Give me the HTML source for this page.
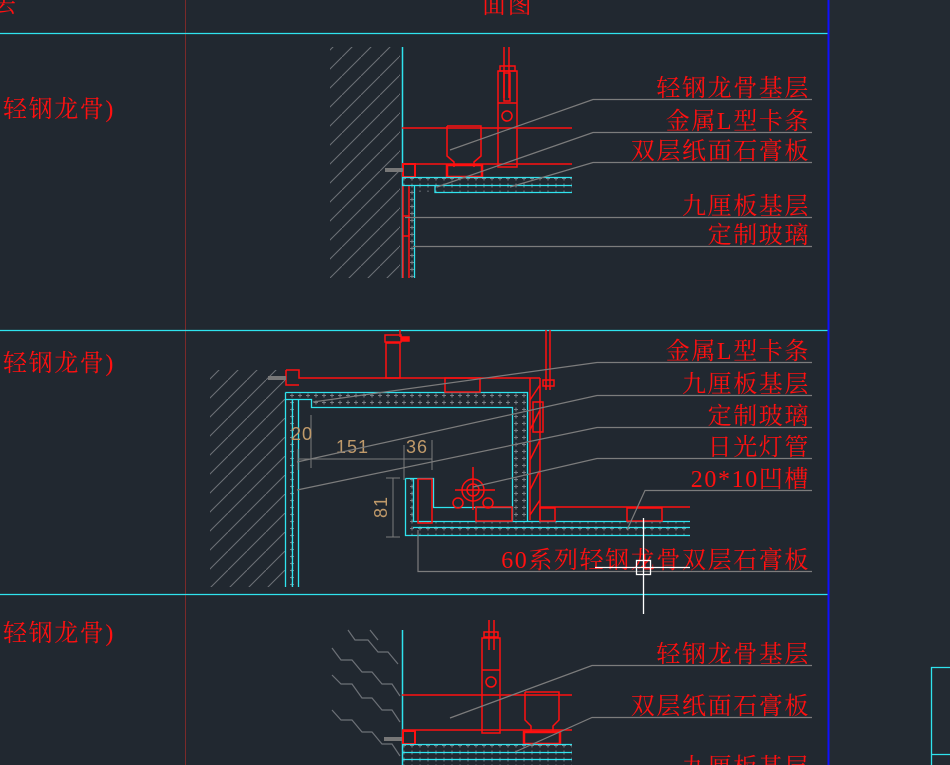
<!DOCTYPE html>
<html><head><meta charset="utf-8"><style>
html,body{margin:0;padding:0;background:#212830;}
svg{display:block}
.t{font-family:"Liberation Serif","Noto Serif CJK SC",serif;fill:#ff1010;font-size:24px;letter-spacing:1.6px;}
.d{font-family:"Liberation Sans",sans-serif;fill:#c09a6a;font-size:18px;letter-spacing:1px;}
</style></head><body>
<svg width="950" height="765" viewBox="0 0 950 765" xmlns="http://www.w3.org/2000/svg">
<defs>
<pattern id="pl" width="8" height="7" patternUnits="userSpaceOnUse">
<path d="M2 3.5h4M4 1.5v4" stroke="#7a7f86" stroke-width="1"/>
</pattern>
<pattern id="hat" width="19" height="19" patternUnits="userSpaceOnUse">
<path d="M0 19L19 0" stroke="#6d7177" stroke-width="1"/>
</pattern>
</defs>
<rect width="950" height="765" fill="#212830"/>
<rect x="829" y="0" width="121" height="765" fill="#232a32"/>
<line x1="185.5" y1="0" x2="185.5" y2="765" stroke="#7a2a2a" stroke-width="1"/>
<line x1="0" y1="33.5" x2="829" y2="33.5" stroke="#2fe3ee" stroke-width="1.3"/>
<line x1="0" y1="330.5" x2="829" y2="330.5" stroke="#2fe3ee" stroke-width="1.3"/>
<line x1="0" y1="594.5" x2="829" y2="594.5" stroke="#2fe3ee" stroke-width="1.3"/>
<line x1="828.5" y1="0" x2="828.5" y2="765" stroke="#1010ff" stroke-width="2"/>
<path d="M931.5 765V667.5H950M931.5 754.5H950" stroke="#2fe3ee" fill="none" stroke-width="1.3"/>

<text class="t" x="-8" y="12">去</text>
<text class="t" x="482" y="13">面图</text>
<text class="t" x="3" y="117">轻钢龙骨)</text>
<text class="t" x="3" y="371">轻钢龙骨)</text>
<text class="t" x="3" y="641">轻钢龙骨)</text>

<!-- ===== Section 1 ===== -->
<rect x="330" y="47" width="70" height="231" fill="url(#hat)"/>
<line x1="402.5" y1="47" x2="402.5" y2="278" stroke="#2fe3ee" stroke-width="1.5"/>
<g stroke="#ff1010" fill="none" stroke-width="1.5">
<line x1="402" y1="128" x2="572" y2="128"/>
<line x1="402" y1="164" x2="572" y2="164"/>
<rect x="498" y="71" width="19" height="96"/>
<rect x="500" y="66" width="15" height="5"/>
<path d="M504 47V98M509 47V98"/>
<rect x="504" y="73" width="6" height="28"/>
<line x1="498" y1="103" x2="517" y2="103"/>
<circle cx="507" cy="116" r="5"/>
<path d="M447 126H481V156L474 162V167M447 126V156L454 162V167"/>
<rect x="447" y="165" width="35" height="12" stroke-width="2.5"/>
<rect x="403" y="164" width="12" height="13" stroke-width="2"/>
<path d="M403 185V278M409 185V278"/>
<path d="M403 216H409V236H403"/>
</g>
<rect x="403" y="177" width="169" height="8" fill="url(#pl)"/>
<rect x="415" y="185" width="157" height="7" fill="url(#pl)"/>
<rect x="409" y="185" width="5" height="93" fill="url(#pl)"/>
<g stroke="#2fe3ee" stroke-width="1.3" fill="none">
<line x1="402" y1="177.5" x2="572" y2="177.5"/>
<line x1="402" y1="185.5" x2="572" y2="185.5"/>
<path d="M435 185.5V192.5H572"/>
<line x1="414.5" y1="185" x2="414.5" y2="278"/>
</g>
<rect x="385" y="168" width="18" height="4" fill="#777"/>
<g stroke="#7c7c7c" stroke-width="1.2" fill="none">
<path d="M812 99.5H593L450 150"/>
<path d="M812 132.5H593L437 187"/>
<path d="M812 162.5H593L510 187"/>
<path d="M812 217.5H405"/>
<path d="M812 246.5H413"/>
</g>
<g class="t" text-anchor="end">
<text x="810" y="96">轻钢龙骨基层</text>
<text x="810" y="129">金属L型卡条</text>
<text x="810" y="159">双层纸面石膏板</text>
<text x="810" y="214">九厘板基层</text>
<text x="810" y="243">定制玻璃</text>
</g>

<!-- ===== Section 2 ===== -->
<rect x="210" y="370" width="75" height="217" fill="url(#hat)"/>
<rect x="286" y="392" width="241" height="7" fill="url(#pl)"/>
<rect x="311" y="399" width="216" height="7" fill="url(#pl)"/>
<rect x="512" y="399" width="15" height="121" fill="url(#pl)"/>
<rect x="286" y="399" width="12" height="188" fill="url(#pl)"/>
<rect x="405" y="478" width="9" height="57" fill="url(#pl)"/>
<rect x="413" y="521" width="277" height="14" fill="url(#pl)"/>
<g stroke="#2fe3ee" stroke-width="1.3" fill="none">
<path d="M285.5 392.5H527.5V521M285.5 392.5V587M292.5 399.5V587M298.5 399V587"/>
<path d="M285.5 399.5H311.5V407.5H512.5V521"/>
<path d="M405.5 478.5H433.5V507.5H512M405.5 478.5V535.5H690M413.5 478V521.5H690M413 527.5H690"/>
</g>
<g stroke="#ff1010" fill="none" stroke-width="1.5">
<path d="M286 370H299V378H540M286 370V385H299"/>
<rect x="386" y="343" width="14" height="35"/>
<rect x="385" y="335" width="16" height="7"/>
<rect x="402" y="337" width="7" height="4" fill="#ff1010"/>
<path d="M400 330V337"/>
<rect x="445" y="378" width="35" height="14"/>
<path d="M530 378V520M540 378V520M530 400L540 385M530 430L540 410M530 460L540 440M530 490L540 470M530 515L540 500"/>
<path d="M546 330V390M550 330V390"/>
<rect x="543" y="380" width="11" height="6"/>
<rect x="533" y="402" width="10" height="30"/>
<rect x="418" y="479" width="14" height="44"/>
<circle cx="473" cy="490" r="11"/>
<circle cx="473" cy="490" r="6"/>
<path d="M455 490H495M473 467V510"/>
<circle cx="458" cy="503" r="5"/>
<circle cx="488" cy="503" r="5"/>
<rect x="476" y="507" width="36" height="14"/>
<path d="M540 507H690"/>
<rect x="540" y="508" width="15" height="13"/>
<rect x="627" y="508" width="35" height="13"/>
</g>
<rect x="268" y="376" width="18" height="4" fill="#777"/>
<g stroke="#7c7c7c" stroke-width="1" fill="none">
<path d="M298 459H432M298 449V470M311 415V468M404 445V480M432 440V470M393 478V537M386 478H400M386 537H400"/>
</g>
<text class="d" x="291" y="440">20</text>
<text class="d" x="336" y="453">151</text>
<text class="d" x="406" y="453">36</text>
<text class="d" x="0" y="0" transform="translate(387,518) rotate(-90)">81</text>
<g stroke="#7c7c7c" stroke-width="1.2" fill="none">
<path d="M812 362.5H597L313 402"/>
<path d="M812 395.5H597L297 462"/>
<path d="M812 427.5H597L297 490"/>
<path d="M812 458.5H597L473 487"/>
<path d="M812 490.5H645L627 530"/>
<path d="M418 530V571.5H812"/>
</g>
<g class="t" text-anchor="end">
<text x="810" y="359">金属L型卡条</text>
<text x="810" y="392">九厘板基层</text>
<text x="810" y="424">定制玻璃</text>
<text x="810" y="455">日光灯管</text>
<text x="810" y="487">20*10凹槽</text>
<text x="810" y="568">60系列轻钢龙骨双层石膏板</text>
</g>
<g stroke="#ffffff" stroke-width="1.3" fill="none">
<path d="M595 567.5H690M643.5 518V614"/>
<rect x="636.5" y="560.5" width="14" height="14"/>
</g>

<!-- ===== Section 3 ===== -->
<g stroke="#6d7177" stroke-width="1.2" fill="none">
<path d="M348 630L355 640H368L378 652H388L398 664"/>
<path d="M332 648L341 660H352L362 672H372L382 684H392L400 696"/>
<path d="M332 675L341 684H352L362 698H372L382 710H392L400 722"/>
<path d="M332 710L341 720H352L362 732H372L382 744H392L400 756"/>
<path d="M370 630L378 640"/>
</g>
<line x1="402.5" y1="630" x2="402.5" y2="765" stroke="#2fe3ee" stroke-width="1.5"/>
<g stroke="#ff1010" fill="none" stroke-width="1.5">
<line x1="402" y1="695" x2="572" y2="695"/>
<line x1="402" y1="730" x2="572" y2="730"/>
<rect x="482" y="638" width="18" height="95"/>
<rect x="484" y="632" width="14" height="5"/>
<path d="M489 620V650M494 620V650"/>
<line x1="482" y1="670" x2="500" y2="670"/>
<circle cx="491" cy="682" r="5"/>
<path d="M525 692H559V720L553 726V732M525 692V720L531 726V732"/>
<rect x="524" y="732" width="36" height="12" stroke-width="2.5"/>
<rect x="403" y="731" width="12" height="13" stroke-width="2"/>
</g>
<rect x="403" y="745" width="169" height="20" fill="url(#pl)"/>
<g stroke="#2fe3ee" stroke-width="1.3" fill="none">
<path d="M402 744.5H572M402 752.5H572M402 759.5H572"/>
</g>
<rect x="384" y="737" width="18" height="4" fill="#777"/>
<g stroke="#7c7c7c" stroke-width="1.2" fill="none">
<path d="M812 665.5H592L450 718"/>
<path d="M812 717.5H592L515 752"/>
</g>
<g class="t" text-anchor="end">
<text x="810" y="662">轻钢龙骨基层</text>
<text x="810" y="714">双层纸面石膏板</text>
<text x="810" y="775">九厘板基层</text>
</g>
</svg>
</body></html>
